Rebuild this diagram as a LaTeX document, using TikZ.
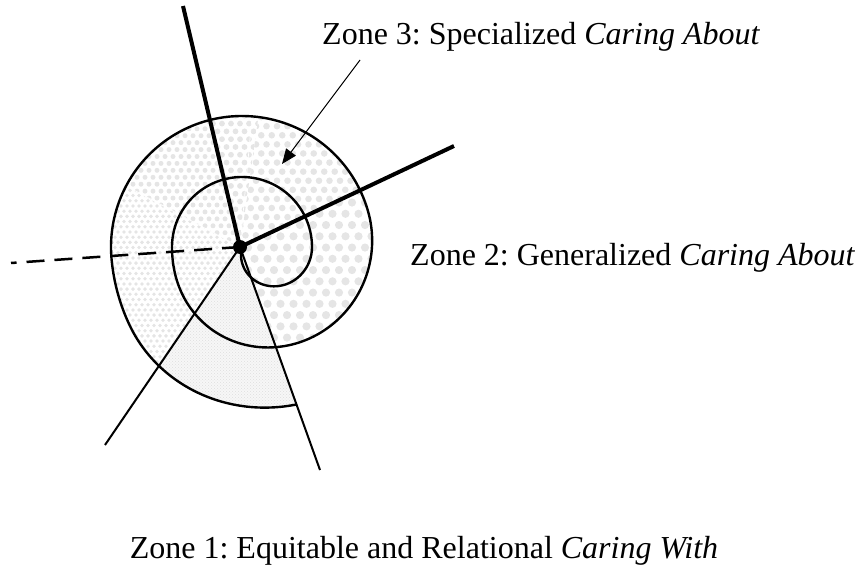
\documentclass[tikz,border=0pt]{standalone}
\usepackage{fontspec}
\setmainfont{Liberation Serif}
\usetikzlibrary{arrows.meta,patterns}
\newcommand\dotfield[6]{%
  \foreach \j in {0,...,#4}{%
    \foreach \i in {0,...,#3}{%
      \fill[dotc] ({#1+\i*#5+mod(\j,2)*#5/2},{#2+\j*#5*0.866}) circle[radius=#6pt];
    }}}
\begin{document}
\frenchspacing
\begin{tikzpicture}[x=1pt,y=-1pt,
  declare function={
    spu(\t)=min(max((\t-180)/195,0),1);
    spv(\t)=min(max(\t-545,0),30);
    spr(\t)=70*sin(min(max((\t+105)*0.857143,0),90))
            +61*spu(\t)*spu(\t)*(3-2*spu(\t))
            +0.4*spv(\t)*spv(\t)/60+0.4*max(\t-575,0);
  },
  spiral/.style={line width=2.4pt, line join=round, line cap=round},
  thickray/.style={line width=4pt},
  thinray/.style={line width=2pt},
  dashray/.style={line width=2.5pt, dash pattern=on 18pt off 10pt},
  pointer/.style={line width=1pt, -{Triangle[length=15pt,width=12pt]}},
  lbl/.style={font=\fontsize{32}{38}\selectfont, inner sep=0pt},
  dotc/.style={fill=black!10},
  seam/.style={white, line width=0.7pt}]
\useasboundingbox (0,0) rectangle (859,567);

% shaded interior of the spiral
\begin{scope}
\clip plot[domain=-105:649, samples=380, smooth] ({242+spr(\x)*cos(\x)},{247-spr(\x)*sin(\x)}) -- cycle;
 \begin{scope}\clip (240,247) -- (68,493) -- (-25,106) -- cycle;
   \dotfield{100}{180}{25}{46}{6}{1.9}\end{scope}
 \begin{scope}\clip (240,247) -- (-25,106) -- (172,-45) -- cycle;
   \dotfield{105}{108}{18}{21}{8}{2.5}\end{scope}
 \begin{scope}\clip (240,247) -- (172,-45) -- (282,-50) -- cycle;
   \dotfield{195}{108}{8}{19}{9}{2.9}\end{scope}
 \begin{scope}\clip (240,247) -- (282,-50) -- (512,119) -- cycle;
   \dotfield{235}{108}{14}{16}{10.5}{3.3}\end{scope}
 \begin{scope}\clip (240,247) -- (512,119) -- (341,529) -- cycle;
   \dotfield{235}{180}{12}{21}{13}{4.1}\end{scope}
 \fill[black!3] (240,247) -- (341,529) -- (68,493) -- cycle;
 \fill[pattern=crosshatch dots, pattern color=black!13] (240,247) -- (341,529) -- (68,493) -- cycle;
 \coordinate (s1) at (130,188);
 \coordinate (s2) at (252,117);
 \draw[seam] (240,247) -- (s1);
 \draw[seam] (240,247) -- (s2);
\end{scope}

% spiral outline
\draw[spiral] plot[domain=-105:649, samples=380, smooth] ({242+spr(\x)*cos(\x)},{247-spr(\x)*sin(\x)});

% rays
\node[circle, fill=black, inner sep=0pt, minimum size=14pt] (c) at (240,247) {};
\coordinate (top) at (183,6);
\coordinate (rt) at (454,146);
\coordinate (ll) at (105,445);
\coordinate (lr) at (320,470);
\coordinate (dl) at (11,263);
\draw[thickray] (c.center) -- (top);
\draw[thickray] (c.center) -- (rt);
\draw[thinray] (c.center) -- (ll);
\draw[thinray] (c.center) -- (lr);
\draw[dashray] (c.center) -- (dl);

% pointer
\coordinate (arrS) at (360,60);
\coordinate (arrE) at (282,164);
\draw[pointer] (arrS) -- (arrE);

% labels
\node[lbl, anchor=base west] (z3) at (322,45) {Zone 3: Specialized \textit{Caring About}};
\node[lbl, anchor=base west] (z2) at (410,265) {Zone 2: Generalized \textit{Caring About}};
\node[lbl, anchor=base] (z1) at (424,558) {Zone 1: Equitable and Relational \textit{Caring With}};
\end{tikzpicture}
\end{document}
